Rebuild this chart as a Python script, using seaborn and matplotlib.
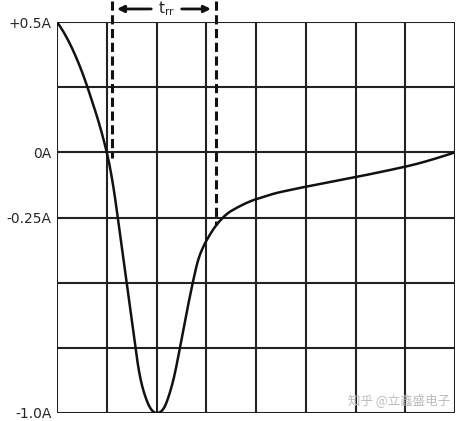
import matplotlib
matplotlib.use("Agg")
import matplotlib.pyplot as plt
import seaborn as sns
import numpy as np
import pandas as pd

sns.set_style("white")
plt.rcParams['font.family'] = ['DejaVu Sans', 'Noto Sans CJK SC']

t_div = [0, 0.25, 0.5, 0.75, 1.0, 1.2, 1.4, 1.6, 1.8, 2.0, 2.2, 2.4, 2.6, 2.8, 2.9, 3.0, 3.2, 3.5, 4.0, 4.5, 5.0, 6.0, 7.0, 8.0]
current = [0.5, 0.42, 0.31, 0.17, 0.0, -0.22, -0.5, -0.78, -0.95, -1.0, -0.96, -0.82, -0.62, -0.44, -0.38, -0.34, -0.28, -0.225, -0.18, -0.152, -0.132, -0.095, -0.055, 0.0]
ytick_vals = [0.5, 0.0, -0.25, -1.0]
ytick_labels = ["+0.5A", "0A", "-0.25A", "-1.0A"]
trr_start, trr_end = 1.1, 3.2

fig = plt.figure(figsize=(4.57, 4.21), dpi=100)
ax = fig.add_axes([57/457, 8/421, 398/457, 391/421])
ax.set_xlim(0, 8)
ax.set_ylim(-1.0, 0.5)
for x in range(9):
    ax.axvline(x, color="#222222", lw=1.5, zorder=1)
for y in np.arange(-1.0, 0.51, 0.25):
    ax.axhline(y, color="#222222", lw=1.5, zorder=1)

xs = np.linspace(0, 8, 800)
s = pd.Series(current, index=t_div)
s = s.reindex(sorted(set(list(t_div) + list(xs)))).interpolate(method="akima")
sns.lineplot(x=s.index, y=s.values, ax=ax, color="#111111", lw=1.8, zorder=3)

for xd, yb in [(trr_start, -0.02), (trr_end, -0.28)]:
    ax.plot([xd, xd], [0.58, yb], ls=(0, (3, 1.5)), color="#111111", lw=2.2, clip_on=False, zorder=4)
ax.annotate("", xy=(trr_start + 0.05, 0.55), xytext=(1.95, 0.55),
            arrowprops=dict(arrowstyle="-|>", color="#111111", lw=2), annotation_clip=False)
ax.annotate("", xy=(trr_end - 0.05, 0.55), xytext=(2.45, 0.55),
            arrowprops=dict(arrowstyle="-|>", color="#111111", lw=2), annotation_clip=False)
ax.text(2.2, 0.55, r"t$_{\rm rr}$", ha="center", va="center", fontsize=11)

ax.set_yticks(ytick_vals)
ax.set_yticklabels(ytick_labels, fontsize=10)
ax.set_xticks([])
ax.set_xlabel("")
ax.set_ylabel("")
ax.tick_params(axis="y", length=0, pad=4)
for sp in ax.spines.values():
    sp.set_visible(False)
fig.text(0.985, 0.03, "知乎 @立鑫盛电子", ha="right", va="bottom", fontsize=9,
         color="#bbbbbb", family=["Noto Sans CJK SC", "DejaVu Sans"])
fig.savefig("out.png", dpi=100)
